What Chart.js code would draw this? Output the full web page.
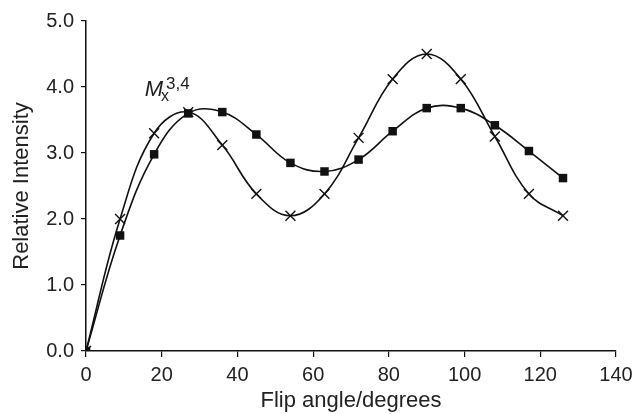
<!DOCTYPE html>
<html>
<head>
<meta charset="utf-8">
<script src="https://cdn.jsdelivr.net/npm/chart.js@4/dist/chart.umd.min.js"></script>
<style>
  html, body { margin: 0; padding: 0; background: #fff; }
  #wrap { width: 640px; height: 414px; }
</style>
</head>
<body>
<div id="wrap"><canvas id="chart"></canvas></div>
<script>
// flip angles (degrees)
const angles = [0, 9, 18, 27, 36, 45, 54, 63, 72, 81, 90, 99, 108, 117, 126];
// crosses
const crossVals = [0, 2.0, 3.3, 3.62, 3.12, 2.38, 2.05, 2.38, 3.23, 4.12, 4.5, 4.12, 3.25, 2.38, 2.05];
// filled squares
const squareVals = [0, 1.75, 2.98, 3.6, 3.62, 3.28, 2.85, 2.72, 2.9, 3.33, 3.68, 3.68, 3.42, 3.03, 2.62];

const xTicks = [0, 20, 40, 60, 80, 100, 120, 140];
const yTicks = [0, 1, 2, 3, 4, 5];

const FONT = 'Liberation Sans, Arial, sans-serif';

function pts(ys) {
  return angles.map((a, i) => ({ x: a, y: ys[i] }));
}

// M_x^{3,4} label near the first peak
const labelPlugin = {
  id: 'mlabel',
  afterDraw(chart) {
    const ctx = chart.ctx;
    const x = chart.scales.x.getPixelForValue(15.5);
    const y = chart.scales.y.getPixelForValue(3.86);
    ctx.save();
    ctx.fillStyle = '#222';
    ctx.textBaseline = 'alphabetic';
    ctx.font = 'italic 22px ' + FONT;
    ctx.fillText('M', x, y);
    const w = ctx.measureText('M').width;
    ctx.font = '16px ' + FONT;
    ctx.fillText('x', x + w - 2, y + 5);
    ctx.font = '17px ' + FONT;
    ctx.fillText('3,4', x + w + 3, y - 7);
    ctx.restore();
  }
};

new Chart(document.getElementById('chart'), {
  type: 'scatter',
  data: {
    datasets: [
      {
        label: 'cross',
        data: pts(crossVals),
        showLine: true,
        tension: 0.4,
        borderColor: '#111',
        borderWidth: 1.6,
        pointStyle: 'crossRot',
        pointRadius: 7,
        pointBorderWidth: 1.4,
        pointBorderColor: '#111',
        pointBackgroundColor: '#111'
      },
      {
        label: 'square',
        data: pts(squareVals),
        showLine: true,
        tension: 0.4,
        borderColor: '#111',
        borderWidth: 1.6,
        pointStyle: 'rect',
        pointRadius: 6,
        pointBorderWidth: 0,
        pointBackgroundColor: '#111'
      }
    ]
  },
  options: {
    responsive: true,
    maintainAspectRatio: false,
    animation: false,
    layout: { padding: { top: 21, right: 24, left: 9, bottom: 0 } },
    plugins: { legend: { display: false }, tooltip: { enabled: false } },
    scales: {
      x: {
        type: 'linear',
        min: 0, max: 140,
        afterBuildTicks: s => { s.ticks = xTicks.map(v => ({ value: v })); },
        afterFit: s => { s.height = 63; },
        border: { display: true, color: '#111', width: 1.5 },
        grid: { display: true, drawOnChartArea: false, drawTicks: true, tickLength: 6, color: '#111', lineWidth: 1.2 },
        ticks: { color: '#222', font: { family: FONT, size: 20 }, padding: 6, maxRotation: 0 },
        title: { display: true, text: 'Flip angle/degrees', color: '#222', font: { family: FONT, size: 22 }, padding: { top: 0, bottom: 0 } }
      },
      y: {
        type: 'linear',
        min: 0, max: 5,
        afterBuildTicks: s => { s.ticks = yTicks.map(v => ({ value: v })); },
        afterFit: s => { s.width = 77; },
        border: { display: true, color: '#111', width: 1.5 },
        grid: { display: true, drawOnChartArea: false, drawTicks: true, tickLength: 5, color: '#111', lineWidth: 1.2 },
        ticks: { color: '#222', font: { family: FONT, size: 20 }, padding: 7, callback: v => v.toFixed(1) },
        title: { display: true, text: 'Relative Intensity', color: '#222', font: { family: FONT, size: 22 }, padding: { top: 0, bottom: 4 } }
      }
    }
  },
  plugins: [labelPlugin]
});
</script>
</body>
</html>
